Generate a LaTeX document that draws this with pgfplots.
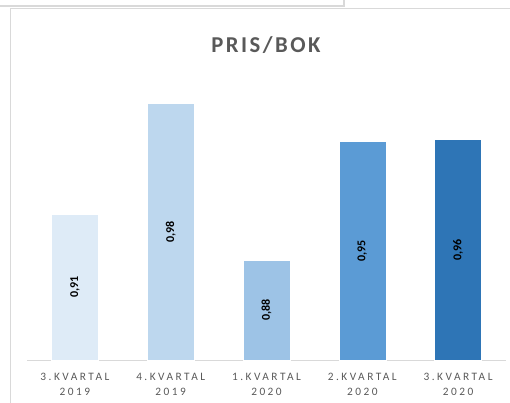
\documentclass[border=0pt]{standalone}
\usepackage{pgfplots}
\pgfplotsset{compat=1.18}
\usepackage{fontspec}
\setmainfont{Carlito}
\newfontfamily\tickfont[LetterSpace=22]{Carlito}
\newfontfamily\titlefont[LetterSpace=11]{Carlito}

\definecolor{txtgray}{HTML}{595959}
\definecolor{linegray}{HTML}{D9D9D9}
\definecolor{b1}{HTML}{DEEBF7}
\definecolor{b2}{HTML}{BDD7EE}
\definecolor{b3}{HTML}{9DC3E6}
\definecolor{b4}{HTML}{5B9BD5}
\definecolor{b5}{HTML}{2E75B6}

\begin{document}
\begin{tikzpicture}
\path[use as bounding box] (0pt,0pt) rectangle (382.5pt,-302.25pt);
% chart frame, in pixel units of the reference
\begin{scope}[x=0.75pt,y=-0.75pt]
\draw[linegray,line width=1.5pt] (0,6) -- (344,6) -- (344,0);
\draw[linegray,line width=0.75pt] (10.5,403) -- (10.5,8.5) -- (510,8.5);
\node[text=txtgray,font=\titlefont\fontsize{17}{20}\selectfont\bfseries] at (266,45) {PRIS/BOK};
\end{scope}

\begin{axis}[
    at={(20.25pt,-270pt)}, anchor=south west,
    scale only axis,
    width=359.25pt, height=219pt,
    xmin=-0.5, xmax=4.5,
    ymin=0.82, ymax=1.0,
    axis y line=none,
    axis x line*=bottom,
    x axis line style={linegray, line width=0.75pt, -},
    xtick={0,1,2,3,4},
    xticklabels={3.KVARTAL\\2019, 4.KVARTAL\\2019, 1.KVARTAL\\2020, 2.KVARTAL\\2020, 3.KVARTAL\\2020},
    xtick style={draw=none},
    xticklabel style={align=center, text=txtgray, font=\tickfont\fontsize{8.5}{11.25}\selectfont, yshift=-2pt},
    ybar, bar width=35.25pt, bar shift=0pt,
    clip=false,
    nodes near coords,
    visualization depends on={rawy \as \rawy},
    every node near coord/.append style={
        shift={(axis direction cs:0,{-(\rawy-0.82)/2})},
        rotate=90, anchor=center, font=\bfseries\fontsize{9}{10}\selectfont, text=black},
    /pgf/number format/.cd, fixed, fixed zerofill, precision=2, use comma, assume math mode=true,
]
\addplot[fill=b1, draw=white, line width=0.4pt] coordinates {(0,0.9101)};
\addplot[fill=b2, draw=white, line width=0.4pt] coordinates {(1,0.978)};
\addplot[fill=b3, draw=white, line width=0.4pt] coordinates {(2,0.8817)};
\addplot[fill=b4, draw=white, line width=0.4pt] coordinates {(3,0.9546)};
\addplot[fill=b5, draw=white, line width=0.4pt] coordinates {(4,0.9558)};
\end{axis}
\end{tikzpicture}
\end{document}
